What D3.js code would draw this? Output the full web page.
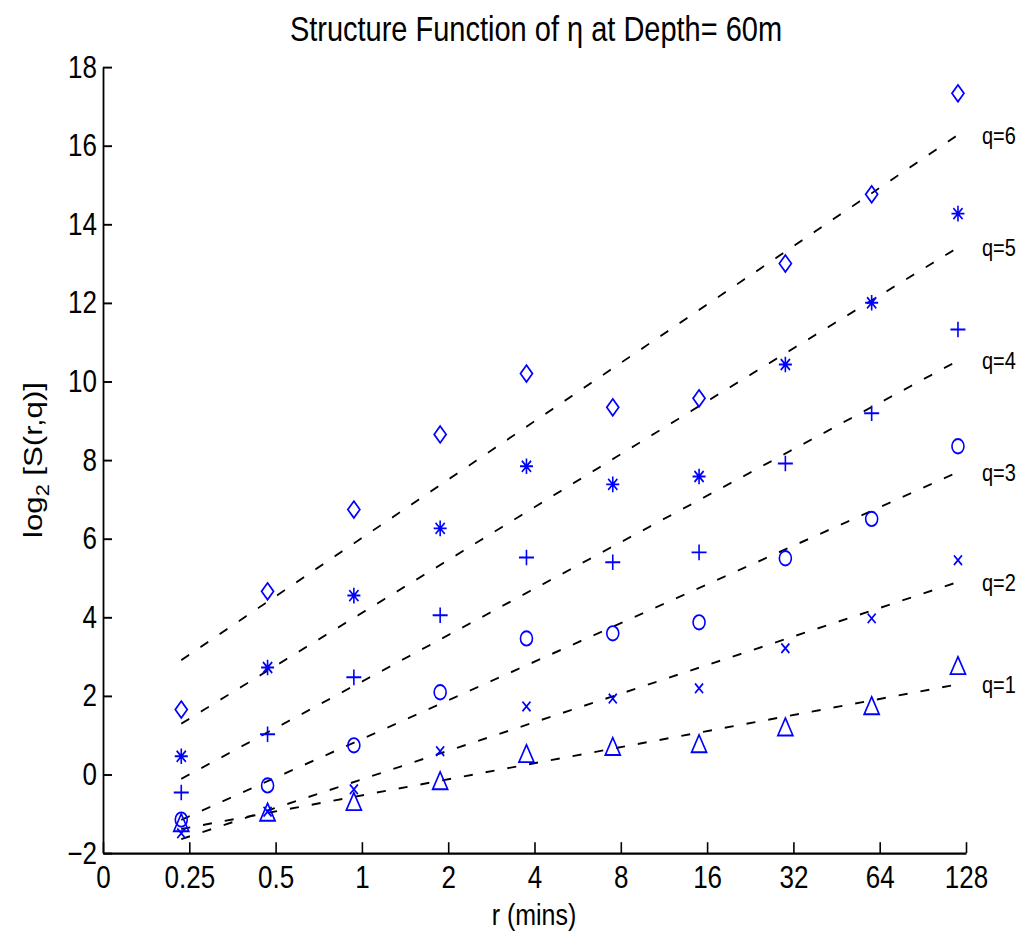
<!DOCTYPE html>
<html>
<head>
<meta charset="utf-8">
<script src="https://cdn.jsdelivr.net/npm/d3@7"></script>
<style>
  body { margin: 0; background: #fff; }
  svg { display: block; }
  text { font-family: "Liberation Sans", Arial, Helvetica, sans-serif; fill: #000; }
</style>
</head>
<body>
<svg id="chart"></svg>
<script>
// -- data -- //
const rMins = [0.234375, 0.46875, 0.9375, 1.875, 3.75, 7.5, 15, 30, 60, 120];
const xTickValues = [0, 0.25, 0.5, 1, 2, 4, 8, 16, 32, 64, 128];
const xTickLabels = ["0", "0.25", "0.5", "1", "2", "4", "8", "16", "32", "64", "128"];
const yTickValues = [-2, 0, 2, 4, 6, 8, 10, 12, 14, 16, 18];

const q1 = [-1.25, -0.98, -0.71, -0.18, 0.51, 0.69, 0.76, 1.19, 1.73, 2.75];
const q2 = [-1.5, -0.95, -0.38, 0.59, 1.73, 1.93, 2.19, 3.21, 3.97, 5.45];
const q3 = [-1.15, -0.28, 0.74, 2.09, 3.46, 3.59, 3.87, 5.5, 6.5, 8.35];
const q4 = [-0.46, 1.02, 2.47, 4.05, 5.52, 5.4, 5.65, 7.91, 9.19, 11.32];
const q5 = [0.46, 2.72, 4.55, 6.26, 7.84, 7.38, 7.58, 10.43, 12.0, 14.27];
const q6 = [1.65, 4.66, 6.74, 8.65, 10.2, 9.34, 9.57, 13.0, 14.76, 17.33];

const seriesNames = ["q=1", "q=2", "q=3", "q=4", "q=5", "q=6"];
const seriesMarkers = ["triangle", "x", "circle", "plus", "star", "diamond"];
const seriesValues = [q1, q2, q3, q4, q5, q6];

// -- the picture is stretched vertically, so draw in a squashed viewBox -- //
const W = 1019, H = 935, SY = 1.2, VBH = H / SY;

const svg = d3.select("#chart")
  .attr("width", W)
  .attr("height", H)
  .attr("viewBox", `0 0 ${W} ${VBH}`)
  .attr("preserveAspectRatio", "none");

// zero sits one octave left of 0.25
let logPos = r => r === 0 ? -3 : Math.log2(r);

let xScale = d3.scaleLinear().domain([-3, 7]).range([103, 966]);
let yScale = d3.scaleLinear().domain([-2, 18]).range([853 / SY, 67 / SY]);

// -- axes -- //
let xAxis = d3.axisBottom(xScale)
  .tickValues(xTickValues.map(logPos))
  .tickFormat((d, i) => xTickLabels[i])
  .tickSizeInner(-9)
  .tickSizeOuter(0)
  .tickPadding(11);

let yAxis = d3.axisLeft(yScale)
  .tickValues(yTickValues)
  .tickFormat(d => d < 0 ? "\u2212" + String(-d) : String(d))
  .tickSizeInner(-9)
  .tickSizeOuter(0)
  .tickPadding(6);

let gx = svg.append("g")
  .attr("transform", `translate(0, ${yScale(-2)})`)
  .call(xAxis);
let gy = svg.append("g")
  .attr("transform", `translate(${xScale(-3)}, 0)`)
  .call(yAxis);

[gx, gy].forEach(g => {
  g.select(".domain").attr("stroke", "#000").attr("stroke-width", 1.8);
  g.selectAll(".tick line").attr("stroke", "#000").attr("stroke-width", 1.6);
  g.selectAll(".tick text")
    .attr("font-size", 26)
    .attr("font-family", "Liberation Sans, Arial, sans-serif")
    .attr("fill", "#000");
});

// -- least squares fit in log2 r -- //
let fitLine = vals => {
  let xs = rMins.map(Math.log2);
  let mx = d3.mean(xs), my = d3.mean(vals);
  let sxy = d3.sum(xs, (x, i) => (x - mx) * (vals[i] - my));
  let sxx = d3.sum(xs, x => (x - mx) * (x - mx));
  let b = sxy / sxx, a = my - b * mx;
  return [xs[0], xs[xs.length - 1]].map(x => ({ x: x, y: a + b * x }));
};

let lineGen = d3.line().x(d => xScale(d.x)).y(d => yScale(d.y));

seriesValues.forEach((vals, i) => {
  let fit = fitLine(vals);
  svg.append("path")
    .datum(fit)
    .attr("d", lineGen)
    .attr("fill", "none")
    .attr("stroke", "#000")
    .attr("stroke-width", 1.6)
    .attr("stroke-dasharray", "9,13");

  svg.append("text")
    .attr("x", xScale(fit[1].x) + 24)
    .attr("y", yScale(fit[1].y))
    .attr("dy", "0.36em")
    .attr("font-size", 20)
    .text(seriesNames[i]);
});

// -- marker shapes (MATLAB style, open, blue) -- //
let markerPath = type => {
  switch (type) {
    case "diamond": return "M0,-7L6,0L0,7L-6,0Z";
    case "circle": return "M6,0A6,6 0 1,1 -6,0A6,6 0 1,1 6,0Z";
    case "plus": return "M-7.5,0L7.5,0M0,-6.5L0,6.5";
    case "star": return "M-6.5,0L6.5,0M0,-6.5L0,6.5M-4.6,-4.6L4.6,4.6M-4.6,4.6L4.6,-4.6";
    case "x": return "M-4,-4L4,4M-4,4L4,-4";
    case "triangle": return "M0,-8L7.5,6.5L-7.5,6.5Z";
  }
};

seriesValues.forEach((vals, i) => {
  svg.append("g").selectAll("path")
    .data(vals)
    .enter()
    .append("path")
    .attr("transform", (d, j) => `translate(${xScale(Math.log2(rMins[j]))}, ${yScale(d)})`)
    .attr("d", markerPath(seriesMarkers[i]))
    .attr("fill", "none")
    .attr("stroke", "#0000ff")
    .attr("stroke-width", 1.6);
});

// -- titles -- //
svg.append("text")
  .attr("x", 536)
  .attr("y", 41 / SY)
  .attr("text-anchor", "middle")
  .attr("font-size", 29)
  .text("Structure Function of \u03b7 at Depth= 60m");

svg.append("text")
  .attr("x", 534)
  .attr("y", 925 / SY)
  .attr("text-anchor", "middle")
  .attr("font-size", 25)
  .text("r (mins)");

let yLabel = svg.append("text")
  .attr("transform", `translate(42, ${460 / SY}) rotate(-90)`)
  .attr("text-anchor", "middle")
  .attr("font-size", 26);
yLabel.append("tspan").text("log");
yLabel.append("tspan").attr("font-size", 18).attr("dy", 7).text("2");
yLabel.append("tspan").attr("dy", -7).text(" [S(r,q)]");
</script>
</body>
</html>
